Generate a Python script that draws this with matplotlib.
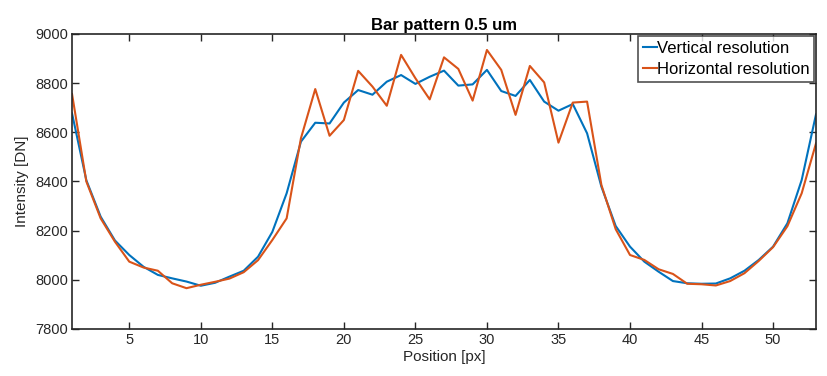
import matplotlib
matplotlib.use("Agg")
import matplotlib.pyplot as plt
import numpy as np

plt.rcParams['font.family'] = ['Liberation Sans', 'DejaVu Sans']

position = list(range(1, 54))
vertical = [8677, 8405, 8257, 8160, 8101, 8053, 8020, 8006, 7993, 7976,
            7988, 8013, 8037, 8094, 8195, 8352, 8562, 8639, 8636, 8721,
            8772, 8753, 8806, 8833, 8797, 8826, 8851, 8790, 8795, 8854,
            8768, 8748, 8813, 8725, 8688, 8715, 8596, 8379, 8219, 8135,
            8074, 8033, 7995, 7986, 7984, 7985, 8006, 8037, 8081, 8135,
            8230, 8406, 8673]
horizontal = [8756, 8400, 8250, 8155, 8074, 8050, 8037, 7986, 7966, 7980,
              7992, 8005, 8031, 8080, 8162, 8250, 8576, 8776, 8586, 8650,
              8850, 8786, 8708, 8915, 8820, 8734, 8905, 8858, 8729, 8935,
              8854, 8671, 8870, 8803, 8558, 8721, 8725, 8386, 8206, 8101,
              8081, 8043, 8024, 7984, 7982, 7977, 7995, 8027, 8077, 8133,
              8218, 8352, 8555]
xticks = [5, 10, 15, 20, 25, 30, 35, 40, 45, 50]
yticks = [7800, 8000, 8200, 8400, 8600, 8800, 9000]

fig = plt.figure(figsize=(8.28, 3.76), dpi=100)
ax = fig.add_axes([0.087, 0.125, 0.8985, 0.7846])
ax.plot(position, vertical, color='#0072BD', lw=1.5, label='Vertical resolution')
ax.plot(position, horizontal, color='#D95319', lw=1.5, label='Horizontal resolution')
ax.set_xlim(1, 53)
ax.set_ylim(7800, 9000)
ax.set_xticks(xticks)
ax.set_yticks(yticks)
ax.tick_params(direction='in', top=True, right=True, length=5, width=1,
               labelsize=10.5, colors='#262626', pad=3)
for s in ax.spines.values():
    s.set_color('#262626')
    s.set_linewidth(1.2)
ax.set_xlabel('Position [px]', fontsize=11, color='#262626', labelpad=2)
ax.set_ylabel('Intensity [DN]', fontsize=11, color='#262626', labelpad=4)
ax.set_title('Bar pattern 0.5 um', fontsize=12, fontweight='bold', pad=3)
leg = ax.legend(loc='upper right', fontsize=12, frameon=True, fancybox=False,
                handlelength=0.8, handletextpad=0.0, borderpad=0.3,
                labelspacing=0.4, borderaxespad=0.1, edgecolor='#262626')
leg.get_frame().set_linewidth(1.2)
fig.savefig('out.png', dpi=100)
